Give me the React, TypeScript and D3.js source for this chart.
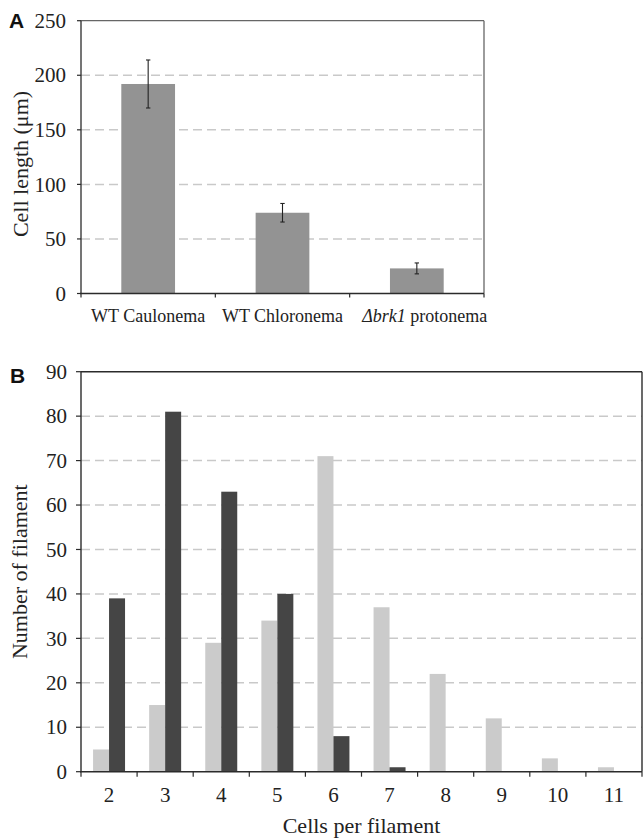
import React from "react";
import * as d3 from "d3";

// panel A: mean cell length with error bars
const groupsA = ["WT Caulonema", "WT Chloronema", "Δbrk1 protonema"];
const lengthMean = [192, 74, 23];
const lengthErr = [22, 8.5, 5];
const ticksA = [0, 50, 100, 150, 200, 250];

// panel B: distribution of cells per filament
const cellsPerFilament = ["2", "3", "4", "5", "6", "7", "8", "9", "10", "11"];
const wtCounts = [5, 15, 29, 34, 71, 37, 22, 12, 3, 1];
const brkCounts = [39, 81, 63, 40, 8, 1, 0, 0, 0, 0];
const seriesB = ["wt", "brk"];
const ticksB = [0, 10, 20, 30, 40, 50, 60, 70, 80, 90];

const W = 643;
const H = 840;
const serif = "'Liberation Serif', 'Times New Roman', serif";
const sans = "'Liberation Sans', Arial, sans-serif";
const axisColor = "#2b2b2b";
const gridColor = "#c9c9c9";

export default function App() {
  // ---- panel A geometry
  const a = { left: 81, right: 484, top: 20.7, bottom: 293.5 };
  const xA = d3.scaleBand<string>().domain(groupsA).range([a.left, a.right]).paddingInner(0.6).paddingOuter(0.3);
  const yA = d3.scaleLinear().domain([0, 250]).range([a.bottom, a.top]);

  // ---- panel B geometry
  const b = { left: 81, right: 642, top: 371.7, bottom: 771.7 };
  const xB = d3.scaleBand<string>().domain(cellsPerFilament).range([b.left, b.right]).paddingInner(0.43).paddingOuter(0.215);
  const xB1 = d3.scaleBand<string>().domain(seriesB).range([0, xB.bandwidth()]);
  const yB = d3.scaleLinear().domain([0, 90]).range([b.bottom, b.top]);
  const colorB = d3.scaleOrdinal<string, string>().domain(seriesB).range(["#cbcbcb", "#454545"]);
  const stepB = (b.right - b.left) / cellsPerFilament.length;
  const stepA = (a.right - a.left) / groupsA.length;

  const dataB = cellsPerFilament.map((c, i) => ({ c, wt: wtCounts[i], brk: brkCounts[i] }));

  return (
    <svg width={W} height={H} style={{ position: "absolute", left: 0, top: 0, background: "#fff" }}>
      {/* ================= Panel A ================= */}
      <text x={9} y={28} fontFamily={sans} fontWeight="bold" fontSize={21} fill="#111">A</text>

      {ticksA.filter((t) => t > 0 && t < 250).map((t) => (
        <line key={"ga" + t} x1={a.left} x2={a.right} y1={yA(t)} y2={yA(t)} stroke={gridColor} strokeWidth={1.5} strokeDasharray="9,5" />
      ))}

      {groupsA.map((g, i) => (
        <rect key={g} x={xA(g)} y={yA(lengthMean[i])} width={xA.bandwidth()} height={yA(0) - yA(lengthMean[i])} fill="#939393" />
      ))}

      {groupsA.map((g, i) => {
        const cx = (xA(g) as number) + xA.bandwidth() / 2;
        const hi = yA(lengthMean[i] + lengthErr[i]);
        const lo = yA(lengthMean[i] - lengthErr[i]);
        return (
          <g key={"e" + g} stroke="#222" strokeWidth={1.1}>
            <line x1={cx} x2={cx} y1={hi} y2={lo} />
            <line x1={cx - 2.2} x2={cx + 2.2} y1={hi} y2={hi} />
            <line x1={cx - 2.2} x2={cx + 2.2} y1={lo} y2={lo} />
          </g>
        );
      })}

      {/* frame */}
      <line x1={a.left} x2={a.right} y1={a.top} y2={a.top} stroke="#666" strokeWidth={1.3} />
      <line x1={a.right} x2={a.right} y1={a.top} y2={a.bottom} stroke="#666" strokeWidth={1.3} />
      <line x1={a.left} x2={a.left} y1={a.top} y2={a.bottom} stroke={axisColor} strokeWidth={1.3} />
      <line x1={a.left - 1} x2={a.right} y1={a.bottom} y2={a.bottom} stroke={axisColor} strokeWidth={1.3} />

      {ticksA.map((t) => (
        <g key={"ta" + t}>
          <line x1={a.left - 4} x2={a.left} y1={yA(t)} y2={yA(t)} stroke={axisColor} strokeWidth={1.2} />
          <text x={66} y={yA(t)} dy="0.34em" textAnchor="end" fontFamily={serif} fontSize={21} fill="#222">{t}</text>
        </g>
      ))}
      {d3.range(groupsA.length + 1).map((i) => (
        <line key={"xta" + i} x1={a.left + i * stepA} x2={a.left + i * stepA} y1={a.bottom} y2={a.bottom + 4} stroke={axisColor} strokeWidth={1.2} />
      ))}
      {groupsA.map((g) => {
        const cx = (xA(g) as number) + xA.bandwidth() / 2;
        if (g.startsWith("Δ")) {
          return (
            <text key={"la" + g} x={cx + 8} y={322} textAnchor="middle" fontFamily={serif} fontSize={18} fill="#222">
              <tspan fontStyle="italic">Δbrk1</tspan> protonema
            </text>
          );
        }
        return (
          <text key={"la" + g} x={cx} y={322} textAnchor="middle" fontFamily={serif} fontSize={18} fill="#222">{g}</text>
        );
      })}
      <text transform={`translate(28, 164) rotate(-90)`} textAnchor="middle" fontFamily={serif} fontSize={22} fill="#222">
        Cell length (μm)
      </text>

      {/* ================= Panel B ================= */}
      <text x={10} y={383} fontFamily={sans} fontWeight="bold" fontSize={21} fill="#111">B</text>

      {ticksB.filter((t) => t > 0 && t < 90).map((t) => (
        <line key={"gb" + t} x1={b.left} x2={b.right} y1={yB(t)} y2={yB(t)} stroke={gridColor} strokeWidth={1.5} strokeDasharray="9,5" />
      ))}

      {dataB.map((d) => (
        <g key={"gr" + d.c} transform={`translate(${xB(d.c)},0)`}>
          {seriesB.map((s) => {
            const v = (d as any)[s] as number;
            if (v <= 0) return null;
            return (
              <rect key={s} x={xB1(s)} y={yB(v)} width={xB1.bandwidth()} height={yB(0) - yB(v)} fill={colorB(s)} />
            );
          })}
        </g>
      ))}

      <line x1={b.left} x2={b.right} y1={b.top} y2={b.top} stroke={axisColor} strokeWidth={1.4} />
      <line x1={b.right} x2={b.right} y1={b.top} y2={b.bottom} stroke={axisColor} strokeWidth={1.4} />
      <line x1={b.left} x2={b.left} y1={b.top} y2={b.bottom} stroke={axisColor} strokeWidth={1.4} />
      <line x1={b.left - 1} x2={b.right} y1={b.bottom} y2={b.bottom} stroke={axisColor} strokeWidth={1.4} />

      {ticksB.map((t) => (
        <g key={"tb" + t}>
          <line x1={b.left - 5} x2={b.left} y1={yB(t)} y2={yB(t)} stroke={axisColor} strokeWidth={1.2} />
          <text x={67} y={yB(t)} dy="0.34em" textAnchor="end" fontFamily={serif} fontSize={21} fill="#222">{t}</text>
        </g>
      ))}
      {d3.range(cellsPerFilament.length + 1).map((i) => (
        <line key={"xtb" + i} x1={b.left + i * stepB} x2={b.left + i * stepB} y1={b.bottom} y2={b.bottom + 5} stroke={axisColor} strokeWidth={1.2} />
      ))}
      {cellsPerFilament.map((c) => (
        <text key={"lb" + c} x={(xB(c) as number) + xB.bandwidth() / 2} y={802} textAnchor="middle" fontFamily={serif} fontSize={21} fill="#222">{c}</text>
      ))}
      <text x={(b.left + b.right) / 2} y={833} textAnchor="middle" fontFamily={serif} fontSize={22} fill="#222">
        Cells per filament
      </text>
      <text transform={`translate(27, ${(b.top + b.bottom) / 2}) rotate(-90)`} textAnchor="middle" fontFamily={serif} fontSize={22} fill="#222">
        Number of filament
      </text>
    </svg>
  );
}
